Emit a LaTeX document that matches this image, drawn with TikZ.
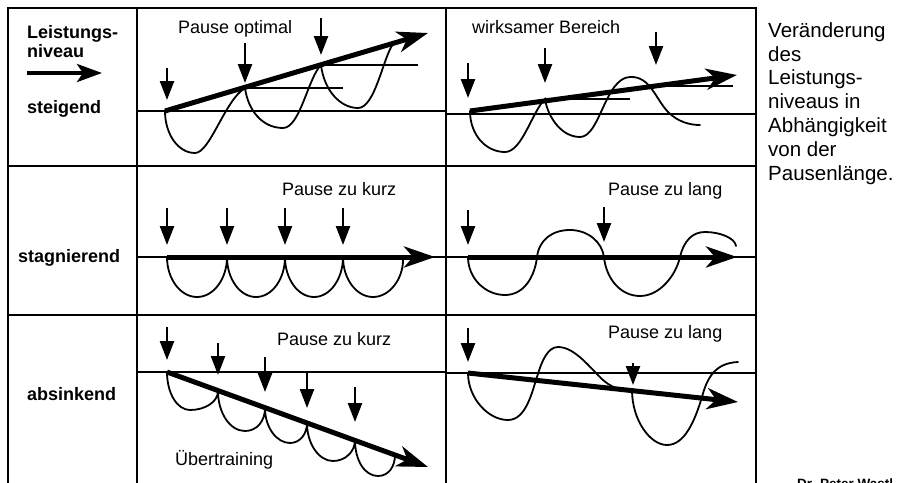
\documentclass[tikz,border=0pt]{standalone}
\usepackage{fontspec}
\setmainfont{Liberation Sans}
\usetikzlibrary{arrows.meta}
\tikzset{
  frame/.style={line width=2.2pt, line cap=rect},
  baseln/.style={line width=1.6pt},
  thin/.style={line width=1.3pt},
  wave/.style={line width=1.8pt, line cap=round},
  trend/.style={line width=5pt, -{Stealth[length=31pt,width=21pt,inset=9pt]}},
  pausearr/.style={line width=2.4pt, -{Triangle[length=19pt,width=14pt]}},
  lbl/.style={font=\fontsize{18}{20}\selectfont, inner sep=0pt, anchor=base west},
  rowlbl/.style={font=\bfseries\fontsize{18}{20}\selectfont, inner sep=0pt, anchor=base west},
}
\begin{document}
\begin{tikzpicture}[x=1pt,y=-1pt]
\fill[white] (0,0) rectangle (901,482);
\useasboundingbox (0,0) rectangle (901,482);

% ---- table frame ----
\draw[frame] (8,8) -- (756,8);
\draw[frame] (8,166) -- (756,166);
\draw[frame] (8,315) -- (756,315);
\foreach \xx in {8,137,446,756} \draw[frame] (\xx,8) -- (\xx,490);

% ---- row labels ----
\node[rowlbl, anchor=north west, align=left, font=\bfseries\fontsize{18}{19.5}\selectfont] (lvl) at (27,25.2) {Leistungs-\\niveau};
\coordinate (la) at (27,73);
\coordinate (lb) at (102,73);
\draw[line width=3.8pt, -{Stealth[length=25pt,width=18pt,inset=6pt]}] (la) -- (lb);
\node[rowlbl] (steig) at (27,113) {steigend};
\node[rowlbl] (stag) at (18,262) {stagnierend};
\node[rowlbl] (absink) at (27,400) {absinkend};

% ---- caption ----
\node[inner sep=0pt, anchor=north west, align=left, font=\fontsize{20.5}{23.8}\selectfont] (cap) at (768,22.3)
  {Veränderung\\des\\Leistungs-\\niveaus in\\Abhängigkeit\\von der\\Pausenlänge.};
\node[inner sep=0pt, anchor=base west, font=\bfseries\fontsize{13.5}{15}\selectfont] (credit) at (797,488) {Dr. Peter Wastl};

% ================= Cell 1: steigend / Pause optimal =================
\draw[baseln] (137,111) -- (446,111);
\node[lbl] (t1) at (178,33) {Pause optimal};
\draw[thin] (245,88) -- (343,88);
\draw[thin] (321,65) -- (418,65);
\draw[wave] (165,111) .. controls (165,134) and (178,153) .. (195,153)
  .. controls (210,153) and (225,100) .. (245,88)
  .. controls (248,110) and (262,128) .. (283,128)
  .. controls (300,128) and (308,78) .. (321,65)
  .. controls (324,90) and (340,108) .. (358,108)
  .. controls (375,108) and (383,58) .. (393,44);
\coordinate (a1s) at (165,111); \coordinate (a1e) at (428,33);
\draw[trend] (a1s) -- (a1e);
\foreach \xx/\ya/\yb in {167/68/100, 245/43/83, 321/18/55}
  \draw[pausearr] (\xx,\ya) -- (\xx,\yb);

% ================= Cell 2: wirksamer Bereich =================
\draw[baseln] (446,114) -- (756,114);
\node[lbl] (t2) at (472,33) {wirksamer Bereich};
\draw[thin] (545,99) -- (630,99);
\draw[thin] (656,86) -- (733,86);
\draw[wave] (470,111) .. controls (470,135) and (486,152) .. (505,152)
  .. controls (522,152) and (532,112) .. (545,99)
  .. controls (548,118) and (562,137) .. (580,137)
  .. controls (600,137) and (605,78) .. (630,77)
  .. controls (650,76) and (655,98) .. (668,112)
  .. controls (678,122) and (690,125) .. (700,125);
\coordinate (a2s) at (470,111); \coordinate (a2e) at (737,75);
\draw[trend] (a2s) -- (a2e);
\foreach \xx/\ya/\yb in {468/63/98, 545/48/83, 656/32/65}
  \draw[pausearr] (\xx,\ya) -- (\xx,\yb);

% ================= Cell 3: stagnierend / Pause zu kurz =================
\draw[baseln] (137,257) -- (756,257);
\node[lbl] (t3) at (282,195) {Pause zu kurz};
\draw[wave] (167,257) .. controls (167,279) and (180.5,297) .. (197,297) .. controls (213.5,297) and (227,279) .. (227,257)
  .. controls (227,279) and (240,297) .. (256,297) .. controls (272,297) and (285,279) .. (285,257)
  .. controls (285,279) and (298,297) .. (314,297) .. controls (330,297) and (343,279) .. (343,257)
  .. controls (343,279) and (356.5,297) .. (373,297) .. controls (389.5,297) and (403,279) .. (403,260);
\coordinate (a3s) at (167,257); \coordinate (a3e) at (435,257);
\draw[trend] (a3s) -- (a3e);
\foreach \xx in {167,227,285,343}
  \draw[pausearr] (\xx,208) -- (\xx,245);

% ================= Cell 4: stagnierend / Pause zu lang =================
\node[lbl] (t4) at (608,195) {Pause zu lang};
\draw[wave] (468,257) .. controls (468,278) and (485,295) .. (505,295)
  .. controls (525,295) and (535,275) .. (537,257)
  .. controls (539,240) and (552,230) .. (570,230)
  .. controls (588,230) and (602,242) .. (604,257)
  .. controls (606,278) and (620,296) .. (640,296)
  .. controls (660,296) and (676,275) .. (680,257)
  .. controls (684,240) and (693,232) .. (705,232)
  .. controls (720,232) and (735,238) .. (736,246);
\coordinate (a4s) at (468,257); \coordinate (a4e) at (737,257);
\draw[trend] (a4s) -- (a4e);
\draw[pausearr] (468,210) -- (468,245);
\draw[pausearr] (604,207) -- (604,242);

% ================= Cell 5: absinkend / Pause zu kurz =================
\draw[baseln] (137,372) -- (446,372);
\node[lbl] (t5) at (277,345) {Pause zu kurz};
\node[lbl] (t5b) at (175,465) {Übertraining};
\draw[wave] (167,372) .. controls (167,393) and (177,410) .. (190,410) .. controls (205,410) and (218,402) .. (218,391)
  .. controls (218,413) and (230,431) .. (245,431) .. controls (257,431) and (265,421) .. (265,408)
  .. controls (265,428) and (277,443) .. (290,443) .. controls (300,443) and (307,434) .. (307,423)
  .. controls (307,444) and (319,461) .. (333,461) .. controls (345,461) and (355,452) .. (355,440)
  .. controls (355,461) and (365,476) .. (378,476) .. controls (389,476) and (395,466) .. (395,455);
\coordinate (a5s) at (167,372); \coordinate (a5e) at (428,467);
\draw[trend] (a5s) -- (a5e);
\foreach \xx/\ya/\yb in {167/327/360, 218/343/375, 265/357/392, 307/373/408, 355/387/422}
  \draw[pausearr] (\xx,\ya) -- (\xx,\yb);

% ================= Cell 6: absinkend / Pause zu lang =================
\draw[baseln] (446,373) -- (756,373);
\node[lbl] (t6) at (608,338) {Pause zu lang};
\draw[wave] (468,373) .. controls (468,398) and (488,420) .. (508,420)
  .. controls (526,420) and (532,392) .. (537,377)
  .. controls (542,360) and (548,347) .. (558,347)
  .. controls (575,347) and (590,368) .. (603,380)
  .. controls (610,386) and (615,388) .. (620,389) -- (632,390)
  .. controls (632,420) and (650,445) .. (667,445)
  .. controls (685,445) and (695,420) .. (702,397)
  .. controls (707,378) and (715,363) .. (738,362);
\coordinate (a6s) at (468,373); \coordinate (a6e) at (738,402);
\draw[trend] (a6s) -- (a6e);
\draw[pausearr] (468,328) -- (468,362);
\draw[pausearr] (633,363) -- (633,385);

\end{tikzpicture}
\end{document}
